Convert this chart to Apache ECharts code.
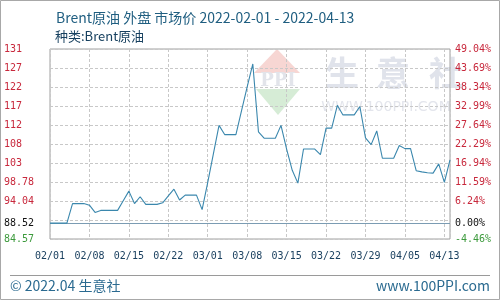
<!DOCTYPE html>
<html><head><meta charset="utf-8">
<script src="https://cdn.jsdelivr.net/npm/echarts@6/dist/echarts.min.js"></script>
<style>html,body{margin:0;padding:0;background:#fff}#c{width:500px;height:300px}</style>
</head><body><div id="c"></div>
<script>
const titleText = 'Brent原油 外盘 市场价 2022-02-01 - 2022-04-13';
const subtitleText = '种类:Brent原油';
const footerLeft = '© 2022.04 生意社';
const footerRight = 'www.100PPI.com';
const xTickLabels = ['02/01','02/08','02/15','02/22','03/01','03/08','03/15','03/22','03/29','04/05','04/13'];
const xTickEvery = 7;
const prices = [
  88.52, 88.52, 88.52, 88.52, 93.4, 93.4, 93.4, 93.0, 91.2, 91.7,
  91.7, 91.7, 91.7, 94.1, 96.5, 93.4, 95.1, 93.2, 93.2, 93.2,
  93.6, 95.3, 97.0, 94.3, 95.5, 95.5, 95.5, 91.9, 98.7, 105.8,
  112.9, 110.6, 110.6, 110.6, 116.6, 122.5, 128.2, 111.3, 109.7, 109.7,
  109.7, 112.9, 107.0, 101.7, 98.5, 107.0, 107.0, 107.0, 105.6, 112.2,
  112.2, 117.9, 115.5, 115.5, 115.5, 117.6, 109.8, 108.1, 111.5, 104.7,
  104.7, 104.7, 107.9, 107.1, 107.1, 101.6, 101.3, 101.1, 101.0, 103.3,
  98.7, 104.3
];
const basePrice = 88.52;
const pctMin = -4.46;
const pctStep = 5.35;
const pctSteps = 10;

const RED = '#c8283c', GREEN = '#3c9a3c', BLACK = '#111';
const labelFont = 'DejaVu Sans Mono';
const cjkFont = 'Noto Sans CJK SC';

function tickIndex(v){ return Math.round(v / pctStep); }
function leftLabel(v){
  const k = tickIndex(v);
  if (k === 1) return '';
  const p = basePrice * (1 + (k * pctStep + pctMin) / 100);
  return p >= 100 ? String(Math.floor(p)) : p.toFixed(2);
}
function rightLabel(v){
  const k = tickIndex(v);
  if (k === 1) return '';
  return (k * pctStep + pctMin).toFixed(2) + '%';
}
function labelColor(v){ return tickIndex(v) === 0 ? GREEN : RED; }

const seriesData = prices.map((p, i) => [i, (p / basePrice - 1) * 100 - pctMin]);

const chart = echarts.init(document.getElementById('c'), null, {renderer: 'canvas'});
const yMax = pctStep * pctSteps;
chart.setOption({
  animation: false,
  backgroundColor: '#fff',
  title: [
    {text: titleText, left: 51, top: 6, textStyle: {fontSize: 14, fontWeight: 'normal', color: '#1f5e80', fontFamily: cjkFont}},
    {text: subtitleText, left: 50, top: 25, textStyle: {fontSize: 13, fontWeight: 'normal', color: '#17405f', fontFamily: cjkFont}}
  ],
  grid: {left: 50, right: 50, top: 49, bottom: 61, show: true, borderColor: '#a0a0a0', borderWidth: 1},
  xAxis: {
    type: 'value', min: 0, max: prices.length - 1, interval: xTickEvery,
    axisLine: {show: false}, axisTick: {show: false},
    splitLine: {show: true, lineStyle: {type: [3, 2], color: '#c8c8c8'}},
    axisLabel: {
      margin: 12, fontSize: 10, fontFamily: labelFont, color: '#1b4160', showMaxLabel: false,
      formatter: v => (v % xTickEvery === 0 ? (xTickLabels[v / xTickEvery] || '') : '')
    }
  },
  yAxis: [
    {
      type: 'value', min: 0, max: yMax, interval: pctStep, position: 'left',
      axisLine: {show: false}, axisTick: {show: false},
      splitLine: {show: true, lineStyle: {type: [3, 2], color: '#c8c8c8'}},
      axisLabel: {margin: 46, align: 'left', fontSize: 10, fontFamily: labelFont, formatter: leftLabel, color: labelColor}
    },
    {
      type: 'value', min: 0, max: yMax, interval: pctStep, position: 'right',
      axisLine: {show: false}, axisTick: {show: false}, splitLine: {show: false},
      axisLabel: {margin: 5, align: 'left', fontSize: 10, fontFamily: labelFont, formatter: rightLabel, color: labelColor}
    }
  ],
  series: [{
    type: 'line', data: seriesData, showSymbol: false, symbol: 'none', z: 5,
    lineStyle: {color: '#3a87ad', width: 1.1},
    markLine: {
      silent: true, symbol: 'none', label: {show: false},
      lineStyle: {color: '#7b9cb3', width: 1, type: 'solid'},
      data: [{yAxis: -pctMin}]
    }
  }]
});

const baseY = chart.convertToPixel({yAxisIndex: 0}, -pctMin);
chart.setOption({
  graphic: [
    {type: 'rect', silent: true, z: -10, shape: {x: 0.5, y: 0.5, width: 499, height: 299}, style: {fill: null, stroke: '#a8a8a8', lineWidth: 1}},
    {type: 'polygon', silent: true, z: -5, shape: {points: [[277, 49], [254, 73], [300, 73]]}, style: {fill: '#f7d6d3'}},
    {type: 'text', silent: true, z: -5, style: {x: 278, y: 81, text: 'PPI', fill: '#e2e4ea', font: 'bold 18px "DejaVu Serif"', align: 'center', verticalAlign: 'middle'}},
    {type: 'polygon', silent: true, z: -5, shape: {points: [[256, 89], [300, 89], [278, 115]]}, style: {fill: '#d6ecd6'}},
    {type: 'text', silent: true, z: -5, style: {x: 342, y: 73, text: '生', fill: '#e0e3eb', font: 'bold 34px "Noto Sans CJK SC"', align: 'center', verticalAlign: 'middle'}},
    {type: 'text', silent: true, z: -5, style: {x: 393, y: 73, text: '意', fill: '#e0e3eb', font: 'bold 34px "Noto Sans CJK SC"', align: 'center', verticalAlign: 'middle'}},
    {type: 'text', silent: true, z: -5, style: {x: 446, y: 73, text: '社', fill: '#e0e3eb', font: 'bold 34px "Noto Sans CJK SC"', align: 'center', verticalAlign: 'middle'}},
    {type: 'text', silent: true, z: -5, style: {x: 386, y: 107, text: 'WWW.100PPI.COM', fill: '#e3e5ec', font: '14px "DejaVu Sans"', align: 'center', verticalAlign: 'middle'}},
    {type: 'text', silent: true, style: {x: 4, y: baseY, text: basePrice.toFixed(2), fill: BLACK, font: '10px "DejaVu Sans Mono"', align: 'left', verticalAlign: 'middle'}},
    {type: 'text', silent: true, style: {x: 455, y: baseY, text: '0.00%', fill: BLACK, font: '10px "DejaVu Sans Mono"', align: 'left', verticalAlign: 'middle'}},
    {type: 'line', silent: true, shape: {x1: 10, y1: 275.5, x2: 490, y2: 275.5}, style: {stroke: '#9a9a9a', lineWidth: 1}},
    {type: 'text', silent: true, style: {x: 10, y: 286, text: footerLeft, fill: '#2a6a90', font: '14px "Noto Sans CJK SC"', align: 'left', verticalAlign: 'middle'}},
    {type: 'text', silent: true, style: {x: 490, y: 286, text: footerRight, fill: '#2a6a90', font: '14px "Noto Sans CJK SC"', align: 'right', verticalAlign: 'middle'}}
  ]
});
</script>
</body></html>
